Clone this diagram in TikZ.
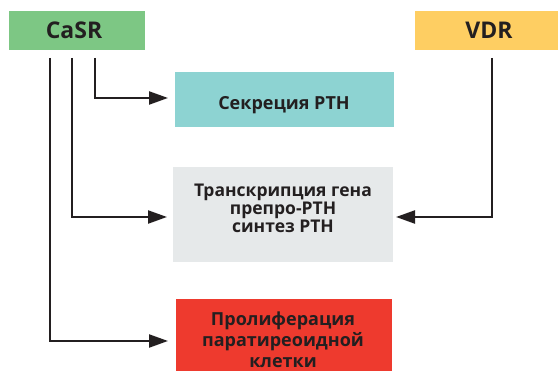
\documentclass[tikz,border=0pt]{standalone}
\usepackage{fontspec}
\setmainfont{Open Sans}
\usetikzlibrary{arrows.meta,calc}
\definecolor{txt}{HTML}{231F20}
\definecolor{cgreen}{HTML}{7DC784}
\definecolor{cyellow}{HTML}{FECE62}
\definecolor{cteal}{HTML}{8DD3D2}
\definecolor{cgray}{HTML}{E6E9EA}
\definecolor{cred}{HTML}{EE3A2E}
\begin{document}
\begin{tikzpicture}[x=1pt,y=-1pt,
  box/.style={draw=none,inner sep=0pt,text=txt,font=\bfseries,align=center},
  conn/.style={draw=txt,line width=2.3pt,-{Triangle[length=19pt,width=13pt]}}]
\useasboundingbox (0,0) rectangle (558,371);
% boxes
\fill[cgreen] (9,11) rectangle (145,50);
\node[box,anchor=base,font=\bfseries\fontsize{23}{26}\selectfont] (casr) at (74,39) {CaSR};
\fill[cyellow] (415,11) rectangle (558,50);
\node[box,anchor=base,font=\bfseries\fontsize{23}{26}\selectfont] (vdr) at (489,39) {VDR};
\fill[cteal] (175,72) rectangle (394,127);
\node[box,anchor=base,font=\bfseries\fontsize{18}{19}\selectfont] (sec) at (284,110) {Секреция PTH};
\fill[cgray] (173,167) rectangle (393,262);
\node[box,font=\bfseries\fontsize{17.5}{18}\selectfont] (tr) at (283,208) {Транскрипция гена\\препро-PTH\\синтез PTH};
\fill[cred] (176,299) rectangle (392,371);
\node[box,font=\bfseries\fontsize{18}{21}\selectfont] (pr) at (283,339.5) {Пролиферация\\паратиреоидной\\клетки};
% anchors
\coordinate (c1) at (95,58);
\coordinate (c2) at (72,58);
\coordinate (c3) at (50,58);
\coordinate (v1) at (492,58);
\coordinate (t1) at (168,98);
\coordinate (t2) at (167,217);
\coordinate (t3) at (168,341);
\coordinate (t4) at (396,217);
% connectors
\draw[conn] (c1) |- (t1);
\draw[conn] (c2) |- (t2);
\draw[conn] (c3) |- (t3);
\draw[conn] (v1) |- (t4);
\end{tikzpicture}
\end{document}
